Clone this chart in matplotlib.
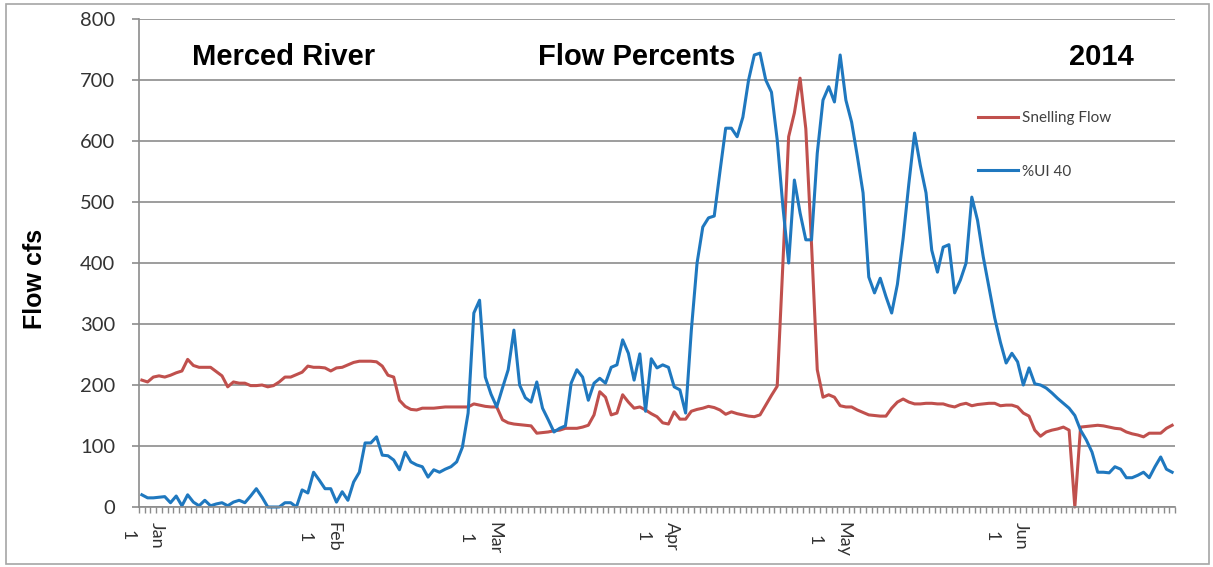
import numpy as np
import pandas as pd
import matplotlib
matplotlib.use('Agg')
import matplotlib.pyplot as plt
import matplotlib.dates as mdates
from matplotlib.patches import Rectangle

# daily values, Jan 1 - Jun 30 2014
days = pd.date_range('2014-01-01', '2014-06-30', freq='D')

snelling_flow = [
    208, 205, 213, 215, 213, 216, 220, 223, 242, 232,
    229, 229, 229, 222, 215, 197, 205, 203, 203, 199,
    199, 200, 197, 199, 205, 213, 213, 217, 221, 231,
    229, 229, 228, 223, 228, 229, 233, 237, 239, 239,
    239, 238, 231, 216, 213, 175, 165, 160, 159, 162,
    162, 162, 163, 164, 164, 164, 164, 164, 169, 167,
    165, 164, 164, 143, 138, 136, 135, 134, 133, 121,
    122, 123, 125, 126, 129, 129, 129, 131, 134, 151,
    189, 180, 151, 154, 184, 172, 162, 164, 159, 153,
    148, 138, 136, 156, 144, 144, 157, 160, 162, 165,
    163, 159, 152, 156, 153, 151, 149, 148, 151, 167,
    183, 198, 400, 607, 646, 703, 620, 430, 225, 180,
    184, 180, 166, 164, 164, 159, 155, 151, 150, 149,
    149, 162, 172, 177, 172, 169, 169, 170, 170, 169,
    169, 166, 164, 168, 170, 166, 168, 169, 170, 170,
    166, 167, 167, 164, 154, 149, 126, 116, 123, 126,
    128, 131, 126, 0, 131, 132, 133, 134, 133, 131,
    129, 128, 123, 120, 118, 115, 121, 121, 121, 129,
    134,
]

ui_40 = [
    20, 15, 15, 16, 17, 7, 18, 2, 20, 8,
    2, 11, 2, 5, 7, 2, 8, 11, 7, 18,
    30, 16, 0, 0, 0, 7, 7, 0, 28, 23,
    57, 44, 30, 30, 8, 25, 11, 41, 57, 105,
    105, 115, 85, 84, 77, 61, 90, 74, 69, 66,
    49, 61, 57, 62, 66, 74, 98, 154, 318, 339,
    213, 185, 164, 195, 225, 290, 200, 179, 172, 205,
    162, 143, 123, 129, 133, 203, 225, 213, 175, 203,
    211, 203, 229, 233, 274, 252, 208, 251, 157, 243,
    228, 233, 229, 197, 192, 154, 290, 400, 459, 474,
    477, 550, 621, 621, 607, 639, 700, 741, 744, 700,
    680, 602, 492, 400, 536, 482, 438, 438, 580, 667,
    689, 664, 741, 667, 631, 575, 515, 377, 351, 375,
    345, 318, 365, 440, 530, 613, 560, 515, 421, 385,
    426, 430, 351, 372, 400, 508, 470, 410, 360, 310,
    270, 236, 252, 238, 200, 228, 202, 200, 195, 187,
    178, 170, 162, 150, 126, 110, 90, 57, 57, 56,
    66, 62, 48, 48, 52, 57, 48, 66, 82, 62,
    57,
]

plt.rcParams['font.family'] = 'Lato'
grey = '#8C8C8C'

W, H = 1213, 567
fig = plt.figure(figsize=(W / 100, H / 100), dpi=100)
ax = fig.add_axes([139 / W, 1 - 507 / H, (1175 - 139) / W, (507 - 19) / H])

ax.plot(days, snelling_flow, color='#C0504D', lw=2.2, label='Snelling Flow', clip_on=False)
ax.plot(days, ui_40, color='#1F78BF', lw=2.2, label='%UI 40', clip_on=False)

# y axis
ax.set_ylim(0, 800)
ax.set_yticks(range(0, 801, 100))
ax.grid(axis='y', color=grey, lw=1.2)
ax.set_axisbelow(True)
ax.tick_params(axis='y', length=5, width=1.2, color=grey, pad=12,
               labelsize=14.5, labelcolor='#333333')

# x axis: labels on the 1st of each month, small ticks between days
xnum = mdates.date2num(days)
ax.set_xlim(xnum[0] - 0.5, xnum[-1] + 0.5)
month_starts = days[days.day == 1]
ax.set_xticks(mdates.date2num(month_starts))
ax.set_xticklabels([f"{d:%b}\n{d.day}" for d in month_starts],
                   rotation=-90, ha='center', va='top')
for lab in ax.get_xticklabels():
    lab.set_linespacing(2.0)
    lab.set_multialignment('center')
ax.set_xticks(np.append(xnum - 0.5, xnum[-1] + 0.5), minor=True)
ax.tick_params(axis='x', which='major', length=0, pad=11,
               labelsize=13, labelcolor='#333333')
ax.tick_params(axis='x', which='minor', length=4.5, width=1, color=grey)

for side in ['top', 'right']:
    ax.spines[side].set_visible(False)
for side in ['left', 'bottom']:
    ax.spines[side].set_color(grey)
    ax.spines[side].set_linewidth(1.2)

# headings
title_font = dict(family='Liberation Sans', fontweight='bold', fontsize=21,
                  ha='center', va='baseline')
fig.text(284 / W, 1 - 65 / H, 'Merced River', **title_font)
fig.text(637 / W, 1 - 65 / H, 'Flow Percents', **title_font)
fig.text(1101 / W, 1 - 65 / H, '2014', **title_font)

fig.text(35 / W, 1 - 279 / H, 'Flow cfs', rotation=90, ha='center', va='center',
         family='Liberation Sans', fontweight='bold', fontsize=18)

leg = ax.legend(loc='upper left', bbox_to_anchor=(978 / W, 1 - 111 / H),
                bbox_transform=fig.transFigure, frameon=False, fontsize=11,
                handlelength=2.6, handletextpad=0.25, labelspacing=2.6,
                borderpad=0, borderaxespad=0)
for t in leg.get_texts():
    t.set_color('#404040')

# outer frame
fig.patches.append(Rectangle((6 / W, 3 / H), (1209 - 6) / W, (564 - 4) / H,
                             transform=fig.transFigure, fill=False,
                             edgecolor='#A6A6A6', lw=1.2))

fig.savefig('out.png', dpi=100)
